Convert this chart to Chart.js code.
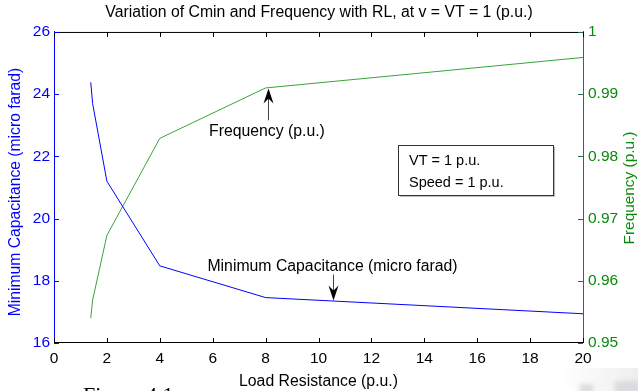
<!DOCTYPE html>
<html>
<head>
<meta charset="utf-8">
<title>Cmin and Frequency vs RL</title>
<script src="https://cdn.jsdelivr.net/npm/chart.js"></script>
<style>
  html, body { margin: 0; padding: 0; background: #fff; }
  #wrap { width: 638px; height: 391px; }
</style>
</head>
<body>
<div id="wrap"><canvas id="c" width="638" height="391"></canvas></div>
<script>
// values
var loadRes = [1.39, 1.46, 2, 4, 8, 20];                  // Load Resistance (p.u.)
var cmin = [24.38, 23.7, 21.2, 18.48, 17.46, 16.94];      // micro farad
var freq = [0.954, 0.9569, 0.9673, 0.9829, 0.9910, 0.9959]; // p.u.

var xTicks = [0, 2, 4, 6, 8, 10, 12, 14, 16, 18, 20];
var cTicks = [16, 18, 20, 22, 24, 26];
var fTicks = [0.95, 0.96, 0.97, 0.98, 0.99, 1];

var titleText = "Variation of Cmin and Frequency with RL, at v = VT = 1 (p.u.)";
var xTitle = "Load Resistance (p.u.)";
var cTitle = "Minimum Capacitance (micro farad)";
var fTitle = "Frequency (p.u.)";
var boxLines = ["VT = 1 p.u.", "Speed = 1 p.u."];

var FONT = "'Liberation Sans', Arial, sans-serif";
var BLUE = "#0000ff";
var GREEN = "#0a8a0a";

function pts(ys) {
    var out = [];
    for (let i = 0; i < loadRes.length; i++) out.push({ x: loadRes[i], y: ys[i] });
    return out;
}

function arrow(ctx, x, y0, y1) {
    // line from y0 to tip y1, filled head at y1
    var dir = y1 > y0 ? 1 : -1;
    var hl = 15, hw = 5;
    ctx.strokeStyle = "#444";
    ctx.lineWidth = 1;
    ctx.beginPath();
    ctx.moveTo(x, y0);
    ctx.lineTo(x, y1 - dir * 6);
    ctx.stroke();
    ctx.fillStyle = "#000";
    ctx.beginPath();
    ctx.moveTo(x, y1);
    ctx.lineTo(x - hw, y1 - dir * hl);
    ctx.lineTo(x, y1 - dir * (hl - 5));
    ctx.lineTo(x + hw, y1 - dir * hl);
    ctx.closePath();
    ctx.fill();
}

function rotatedText(ctx, text, x, y) {
    ctx.save();
    ctx.translate(x, y);
    ctx.rotate(-Math.PI / 2);
    ctx.fillText(text, 0, 0);
    ctx.restore();
}

var extras = {
    id: "extras",
    beforeDraw(chart) {
        // faint scan smudges in the lower right corner
        var ctx = chart.ctx;
        ctx.save();
        var g = ctx.createLinearGradient(560, 0, 638, 0);
        g.addColorStop(0, "rgba(238,238,238,0)");
        g.addColorStop(1, "rgba(238,238,238,1)");
        ctx.fillStyle = g;
        ctx.fillRect(560, 368, 78, 23);
        ctx.filter = "blur(2px)";
        ctx.fillStyle = "rgba(212,212,220,0.8)";
        ctx.fillRect(580, 384, 13, 9);
        ctx.fillRect(615, 381, 25, 12);
        ctx.restore();
    },
    afterDraw(chart) {
        var ctx = chart.ctx;
        var a = chart.chartArea;
        var sx = chart.scales.x, sy = chart.scales.y, sf = chart.scales.y1;
        ctx.save();
        // top border
        ctx.strokeStyle = "#000";
        ctx.lineWidth = 1;
        ctx.beginPath();
        ctx.moveTo(a.left, a.top + 0.5);
        ctx.lineTo(a.right, a.top + 0.5);
        ctx.stroke();
        // inward ticks
        var tl = 5;
        xTicks.forEach(function (v) {
            var px = Math.round(sx.getPixelForValue(v)) + 0.5;
            ctx.beginPath();
            ctx.moveTo(px, a.bottom); ctx.lineTo(px, a.bottom - tl);
            ctx.moveTo(px, a.top); ctx.lineTo(px, a.top + tl);
            ctx.stroke();
        });
        ctx.strokeStyle = BLUE;
        cTicks.forEach(function (v) {
            var py = Math.round(sy.getPixelForValue(v)) + 0.5;
            ctx.beginPath();
            ctx.moveTo(a.left, py); ctx.lineTo(a.left + tl, py);
            ctx.stroke();
        });
        ctx.strokeStyle = "#1f6a4a";
        fTicks.forEach(function (v) {
            var py = Math.round(sf.getPixelForValue(v)) + 0.5;
            ctx.beginPath();
            ctx.moveTo(a.right, py); ctx.lineTo(a.right - tl, py);
            ctx.stroke();
        });

        // y axis titles, both reading bottom to top
        ctx.textAlign = "center";
        ctx.textBaseline = "middle";
        ctx.font = "15.7px " + FONT;
        ctx.fillStyle = BLUE;
        rotatedText(ctx, cTitle, 15.5, 192);
        ctx.font = "15.4px " + FONT;
        ctx.fillStyle = GREEN;
        rotatedText(ctx, fTitle, 630, 188);

        // annotations
        ctx.fillStyle = "#000";
        ctx.font = "15.8px " + FONT;
        ctx.fillText("Frequency (p.u.)", sx.getPixelForValue(8.05), sf.getPixelForValue(0.9839));
        arrow(ctx, Math.round(sx.getPixelForValue(8.09)) + 0.5, sf.getPixelForValue(0.9858), sf.getPixelForValue(0.9909));
        ctx.fillStyle = "#000";
        ctx.font = "15.8px " + FONT;
        ctx.fillText("Minimum Capacitance (micro farad)", sx.getPixelForValue(10.53), sy.getPixelForValue(18.45));
        arrow(ctx, Math.round(sx.getPixelForValue(10.55)) + 0.5, sy.getPixelForValue(18.2), sy.getPixelForValue(17.37));

        // text box
        var bx0 = sx.getPixelForValue(13.0), bx1 = sx.getPixelForValue(18.87);
        var by0 = sy.getPixelForValue(22.37), by1 = sy.getPixelForValue(20.76);
        ctx.fillStyle = "#bbb";
        ctx.fillRect(bx0 + 2, by0 + 2, bx1 - bx0, by1 - by0);
        ctx.fillStyle = "#fff";
        ctx.fillRect(bx0, by0, bx1 - bx0, by1 - by0);
        ctx.strokeStyle = "#333";
        ctx.strokeRect(Math.round(bx0) + 0.5, Math.round(by0) + 0.5, Math.round(bx1 - bx0), Math.round(by1 - by0));
        ctx.fillStyle = "#000";
        ctx.font = "14.5px " + FONT;
        ctx.textAlign = "left";
        ctx.fillText(boxLines[0], sx.getPixelForValue(13.42), sy.getPixelForValue(21.84));
        ctx.fillText(boxLines[1], sx.getPixelForValue(13.42), sy.getPixelForValue(21.14));

        // caption cut off at the page edge
        ctx.font = "22px 'Liberation Serif', serif";
        ctx.textBaseline = "alphabetic";
        ctx.fillText("Figure 4.1", 83, 402);
        ctx.restore();
    }
};

new Chart(document.getElementById("c"), {
    type: "line",
    data: {
        datasets: [{
            data: pts(cmin),
            yAxisID: "y",
            borderColor: BLUE,
            borderWidth: 1,
            pointRadius: 0,
            tension: 0,
            fill: false
        }, {
            data: pts(freq),
            yAxisID: "y1",
            borderColor: "#3aa33a",
            borderWidth: 1,
            pointRadius: 0,
            tension: 0,
            fill: false
        }]
    },
    options: {
        responsive: false,
        animation: false,
        devicePixelRatio: 1,
        layout: { padding: 0 },
        plugins: {
            legend: { display: false },
            tooltip: { enabled: false },
            title: {
                display: true,
                text: titleText,
                color: "#000",
                font: { family: FONT, size: 15.8, weight: "normal" },
                padding: { top: 3.4, bottom: 9.6 }
            }
        },
        scales: {
            x: {
                type: "linear",
                min: 0,
                max: 20,
                afterBuildTicks: function (s) { s.ticks = xTicks.map(function (v) { return { value: v }; }); },
                afterFit: function (s) { s.height = 48; },
                grid: { display: true, drawOnChartArea: false, drawTicks: false },
                border: { display: true, color: "#000", width: 1 },
                ticks: { color: "#000", font: { family: FONT, size: 15.5 }, padding: 6, maxRotation: 0 },
                title: { display: true, text: xTitle, color: "#000", font: { family: FONT, size: 15.8 }, padding: { top: 2.4, bottom: 0 } }
            },
            y: {
                position: "left",
                min: 16,
                max: 26,
                afterBuildTicks: function (s) { s.ticks = cTicks.map(function (v) { return { value: v }; }); },
                afterFit: function (s) { s.width = 54; },
                grid: { display: true, drawOnChartArea: false, drawTicks: false },
                border: { display: true, color: BLUE, width: 1 },
                ticks: { color: BLUE, font: { family: FONT, size: 15.5 }, padding: 4 }
            },
            y1: {
                position: "right",
                min: 0.95,
                max: 1,
                afterBuildTicks: function (s) { s.ticks = fTicks.map(function (v) { return { value: v }; }); },
                afterFit: function (s) { s.width = 55; },
                grid: { display: true, drawOnChartArea: false, drawTicks: false },
                border: { display: true, color: "#1f7a3a", width: 1 },
                ticks: {
                    color: GREEN,
                    font: { family: FONT, size: 15.5 },
                    padding: 5,
                    callback: function (v) { return String(+v.toFixed(2)); }
                }
            }
        }
    },
    plugins: [extras]
});
</script>
</body>
</html>
